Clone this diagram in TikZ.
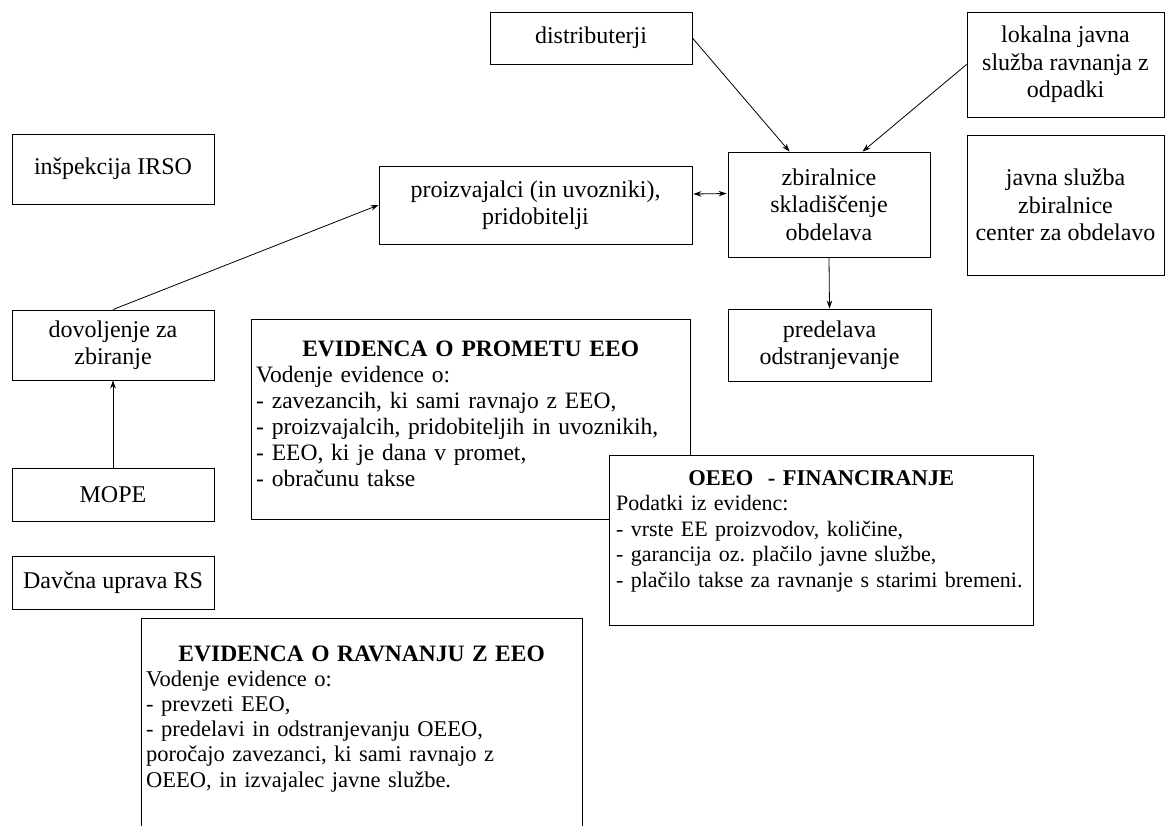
\documentclass[tikz,border=0pt]{standalone}
\usepackage{fontspec}
\setmainfont{Liberation Serif}
\usetikzlibrary{arrows.meta,calc}
\frenchspacing
\begin{document}
\begin{tikzpicture}[x=1pt,y=-1pt,
  box/.style={draw, line width=0.9pt, align=center, inner sep=0pt, font=\fontsize{24}{27.5}\selectfont},
  bigbox/.style={draw, line width=0.9pt, inner sep=0pt, fill=white},
  bigtext/.style={anchor=base west, inner sep=0pt, align=left},
  arr/.style={line width=0.8pt, -{Stealth[length=8pt,width=5.5pt]}},
  darr/.style={line width=0.8pt, {Stealth[length=8pt,width=5.5pt]}-{Stealth[length=8pt,width=5.5pt]}}]
\useasboundingbox (0,0) rectangle (1165,825);
\clip (0,0) rectangle (1165,825);
\fill[white] (0,0) rectangle (1165,825);

\node[box, minimum width=202pt, minimum height=52pt] (dist) at (591,38) {distributerji};
\node[box, minimum width=197pt, minimum height=105pt] (lok) at (1065.5,64.5) {lokalna javna\\služba ravnanja z\\odpadki};
\node[box, minimum width=197pt, minimum height=140pt] (javna) at (1065.5,205) {javna služba\\zbiralnice\\center za obdelavo};
\node[box, minimum width=202pt, minimum height=105pt] (zb) at (829,204.5) {zbiralnice\\skladiščenje\\obdelava};
\node[box, minimum width=313pt, minimum height=78pt] (proiz) at (535.5,205) {proizvajalci (in uvozniki),\\pridobitelji};
\node[box, minimum width=203pt, minimum height=72pt] (pred) at (829.5,345) {predelava\\odstranjevanje};
\node[box, minimum width=202pt, minimum height=70pt] (insp) at (113,169) {inšpekcija IRSO};
\node[box, minimum width=202pt, minimum height=70pt] (dov) at (113,345) {dovoljenje za\\zbiranje};
\node[box, minimum width=202pt, minimum height=53pt] (mope) at (113,494.5) {MOPE};
\node[box, minimum width=202pt, minimum height=53pt] (davc) at (113,582.5) {Davčna uprava RS};

\node[bigbox, minimum width=439pt, minimum height=200pt] (prom) at (470.5,419) {};
\node[bigtext, text width=429pt, font=\fontsize{23.5}{26}\selectfont] (tprom) at (256,356) {\makebox[\linewidth]{\bfseries EVIDENCA O PROMETU EEO}\\
Vodenje evidence o:\\
- zavezancih, ki sami ravnajo z EEO,\\
- proizvajalcih, pridobiteljih in uvoznikih,\\
- EEO, ki je dana v promet,\\
- obračunu takse};

\node[bigbox, minimum width=424pt, minimum height=170pt] (oeeo) at (821,540) {};
\node[bigtext, text width=410pt, font=\fontsize{22}{25.5}\selectfont] (toeeo) at (616,485) {\makebox[\linewidth]{\fontsize{22.5}{25.5}\selectfont\bfseries OEEO~ - FINANCIRANJE}\\
Podatki iz evidenc:\\
- vrste EE proizvodov, količine,\\
- garancija oz. plačilo javne službe,\\
- plačilo takse za ravnanje s starimi bremeni.};

\node[bigbox, minimum width=441pt, minimum height=222pt] (ravn) at (361.5,729) {};
\node[bigtext, text width=431pt, font=\fontsize{22.5}{25.2}\selectfont] (travn) at (146,661) {\makebox[\linewidth]{\fontsize{23.5}{25.2}\selectfont\bfseries EVIDENCA O RAVNANJU Z EEO}\\
Vodenje evidence o:\\
- prevzeti EEO,\\
- predelavi in odstranjevanju OEEO,\\
poročajo zavezanci, ki sami ravnajo z\\
OEEO, in izvajalec javne službe.};

\draw[arr] (dist.east) -- ($(zb.north west)+(62,0)$);
\draw[arr] (lok.west) -- ($(zb.north west)+(135,0)$);
\draw[darr] ($(proiz.east)+(1,-11)$) -- ($(zb.west)+(-1,-11)$);
\draw[arr] (zb.south) -- (pred.north);
\draw[arr] (dov.north) -- (proiz.west);
\draw[arr] (mope.north) -- (dov.south);
\end{tikzpicture}
\end{document}
